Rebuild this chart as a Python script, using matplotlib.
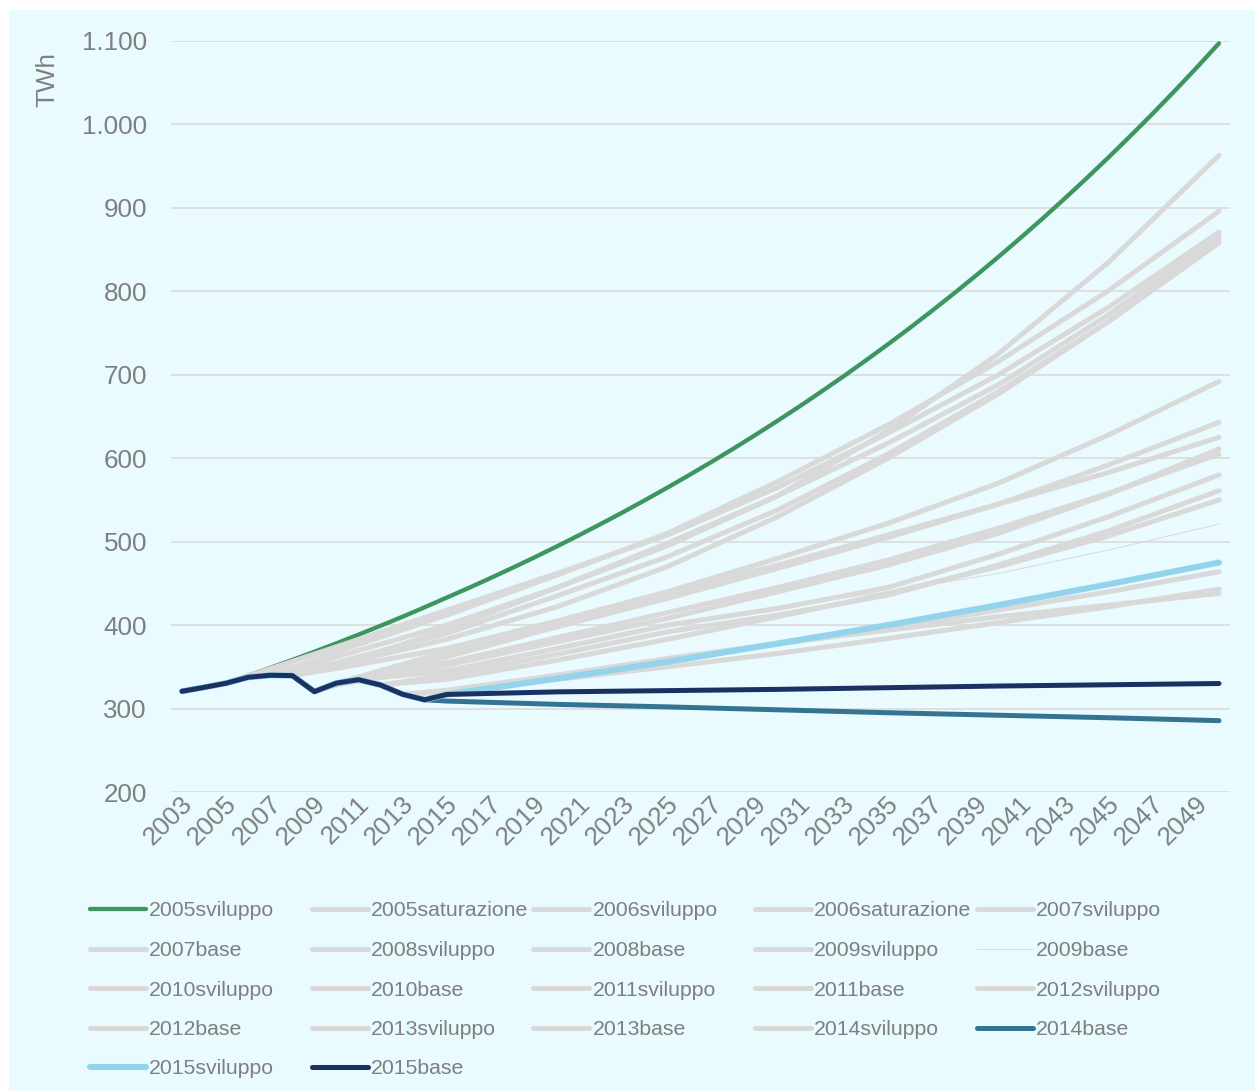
import matplotlib
matplotlib.use("Agg")
import matplotlib.pyplot as plt
from matplotlib.lines import Line2D
from matplotlib.patches import Rectangle
from matplotlib.transforms import ScaledTranslation

plt.rcParams['font.family'] = ['Liberation Sans', 'DejaVu Sans']

# ---------------- data ----------------
hist_years = list(range(2003, 2016))
hist_twh = [320.7, 325.4, 330.4, 337.5, 339.9, 339.5, 320.3, 330.5, 334.6, 328.2, 317.1, 310.5, 316.9]

proj_years = [2020, 2025, 2030, 2035, 2040, 2045, 2050]

y2005sv_x = [2003, 2004] + list(range(2005, 2051))
y2005sv = [320.7, 325.4,
           330.4, 339.5, 348.8, 358.3, 368.1, 378.2, 388.6, 399.2, 410.1, 421.4,
           433.0, 444.6, 456.6, 468.9, 481.5, 494.5, 507.8, 521.5, 535.5, 550.0,
           564.8, 580.0, 595.6, 611.6, 628.1, 645.0, 662.3, 680.2, 698.5, 717.3,
           736.6, 756.4, 776.8, 797.7, 819.2, 841.2, 863.9, 887.1, 911.0, 935.5,
           960.7, 986.6, 1013.1, 1040.4, 1068.4, 1097.2]

y2005sat_x = [2005, 2010, 2015] + proj_years
y2005sat = [330.4, 374, 418, 462, 508, 565, 630, 700, 781, 871]

y2006sv_x = [2006, 2010, 2015] + proj_years
y2006sv = [337.5, 362, 400, 445, 495, 555, 633, 725, 835, 963]

y2006sat_x = [2006, 2010, 2015] + proj_years
y2006sat = [337.5, 355, 390, 435, 482, 538, 605, 680, 764, 858]

y2007sv_x = [2007, 2010, 2015] + proj_years
y2007sv = [339.9, 368, 412, 460, 510, 572, 640, 716, 801, 896]

y2007b_x = [2007, 2010, 2015] + proj_years
y2007b = [339.9, 352, 383, 422, 470, 530, 600, 677, 764, 862]

y2008sv_x = [2008, 2010, 2015] + proj_years
y2008sv = [339.5, 350, 395, 445, 498, 555, 618, 688, 772, 866]

y2008b_x = [2008, 2010, 2015] + proj_years
y2008b = [339.5, 348, 372, 405, 440, 480, 522, 570, 628, 692]

y2009sv_x = [2009, 2010, 2015] + proj_years
y2009sv = [320.3, 328, 362, 398, 432, 468, 505, 545, 592, 643]

y2009b_x = [2009, 2010, 2015] + proj_years
y2009b = [320.3, 326, 348, 370, 398, 422, 440, 462, 490, 521]

y2010sv_x = [2010, 2015] + proj_years
y2010sv = [330.5, 368, 402, 438, 472, 508, 545, 583, 625]

y2010b_x = [2010, 2015] + proj_years
y2010b = [330.5, 355, 385, 415, 445, 478, 516, 558, 605]

y2011sv_x = [2011, 2015] + proj_years
y2011sv = [334.6, 352, 380, 408, 440, 472, 510, 557, 611]

y2011b_x = [2011, 2015] + proj_years
y2011b = [334.6, 345, 372, 400, 420, 445, 485, 530, 580]

y2012sv_x = [2012, 2015] + proj_years
y2012sv = [328.2, 340, 365, 392, 412, 436, 472, 513, 561]

y2012b_x = [2012, 2015] + proj_years
y2012b = [328.2, 335, 358, 383, 410, 438, 470, 507, 550]

y2013sv_x = [2013, 2015] + proj_years
y2013sv = [317.1, 322, 340, 358, 377, 397, 418, 440, 464]

y2013b_x = [2013, 2015] + proj_years
y2013b = [317.1, 320, 335, 350, 366, 384, 403, 422, 443]

y2014sv_x = [2014, 2015] + proj_years
y2014sv = [310.5, 318, 340, 360, 378, 394, 410, 424, 438]

y2014b_x = hist_years[:-1] + [2015] + proj_years
y2014b = hist_twh[:-1] + [309, 305, 302, 298.5, 295, 292, 289, 285.5]

y2015sv_x = hist_years + proj_years
y2015sv = hist_twh + [336, 356, 378, 400, 424, 449, 475]

y2015b_x = hist_years + proj_years
y2015b = hist_twh + [320, 321.5, 323, 325, 327, 328.5, 330]

series_names = ['2005sviluppo', '2005saturazione', '2006sviluppo', '2006saturazione', '2007sviluppo',
                '2007base', '2008sviluppo', '2008base', '2009sviluppo', '2009base',
                '2010sviluppo', '2010base', '2011sviluppo', '2011base', '2012sviluppo',
                '2012base', '2013sviluppo', '2013base', '2014sviluppo', '2014base',
                '2015sviluppo', '2015base']

y_ticks = [200, 300, 400, 500, 600, 700, 800, 900, 1000, 1100]
y_ticklabels = ['200', '300', '400', '500', '600', '700', '800', '900', '1.000', '1.100']
x_ticks = list(range(2003, 2051, 2))

# ---------------- styles ----------------
GREY = '#D9D9D9'
series_xy = [(y2005sv_x, y2005sv), (y2005sat_x, y2005sat), (y2006sv_x, y2006sv), (y2006sat_x, y2006sat),
             (y2007sv_x, y2007sv), (y2007b_x, y2007b), (y2008sv_x, y2008sv), (y2008b_x, y2008b),
             (y2009sv_x, y2009sv), (y2009b_x, y2009b), (y2010sv_x, y2010sv), (y2010b_x, y2010b),
             (y2011sv_x, y2011sv), (y2011b_x, y2011b), (y2012sv_x, y2012sv), (y2012b_x, y2012b),
             (y2013sv_x, y2013sv), (y2013b_x, y2013b), (y2014sv_x, y2014sv), (y2014b_x, y2014b),
             (y2015sv_x, y2015sv), (y2015b_x, y2015b)]
colors = ['#3E965E'] + [GREY] * 18 + ['#347391', '#93D4EC', '#1A3262']
widths = [3.1] + [3.6] * 8 + [0.7] + [3.6] * 9 + [3.6, 4.4, 3.6]

W, H, DPI = 1255, 1091, 100
BG = '#E9FBFE'
TXT = '#7F7F7F'

fig = plt.figure(figsize=(W / DPI, H / DPI), dpi=DPI)
fig.patch.set_facecolor('white')
fig.add_artist(Rectangle((9 / W, 0), 1 - 9 / W, 1 - 10 / H, transform=fig.transFigure,
                         facecolor=BG, edgecolor='none', zorder=0))

ax = fig.add_axes([171 / W, 1 - 792 / H, (1230 - 171) / W, (792 - 41) / H])
ax.set_facecolor('none')
for s in ax.spines.values():
    s.set_visible(False)

for (xs, ys), c, lw in zip(series_xy, colors, widths):
    ax.plot(xs, ys, color=c, lw=lw, solid_capstyle='round', solid_joinstyle='round')

ax.set_xlim(2002.5, 2050.5)
ax.set_ylim(200, 1100)
ax.set_yticks(y_ticks)
ax.set_yticklabels(y_ticklabels)
ax.set_xticks(x_ticks)
ax.set_xticklabels([str(v) for v in x_ticks], rotation=45, ha='right', va='center',
                   rotation_mode='anchor')
ax.tick_params(axis='y', length=0, pad=17.3, labelsize=18.7, labelcolor=TXT)
ax.tick_params(axis='x', length=0, pad=5.8, labelsize=18.7, labelcolor=TXT)
shift = ScaledTranslation(7 / DPI, 0, fig.dpi_scale_trans)
for lab in ax.get_xticklabels():
    lab.set_transform(lab.get_transform() + shift)
ax.grid(axis='y', color=GREY, lw=1.1)
ax.grid(axis='x', visible=False)
ax.set_axisbelow(True)

fig.text(47 / W, 1 - 79.5 / H, 'TWh', rotation=90, ha='center', va='center',
         fontsize=18.7, color=TXT)

# legend laid out like the original (uniform column pitch, row-major order)
for i, (name, c, lw) in enumerate(zip(series_names, colors, widths)):
    row, col = divmod(i, 5)
    x0 = 90 + col * 221.7
    yy = 909 + row * 39.5
    fig.add_artist(Line2D([x0 / W, (x0 + 56) / W], [1 - yy / H, 1 - yy / H],
                          transform=fig.transFigure, color=c, lw=lw, solid_capstyle='round'))
    fig.text((x0 + 59) / W, 1 - yy / H, name, ha='left', va='center_baseline',
             fontsize=15.3, color=TXT)

fig.savefig('out.png', dpi=DPI, facecolor=fig.get_facecolor())
